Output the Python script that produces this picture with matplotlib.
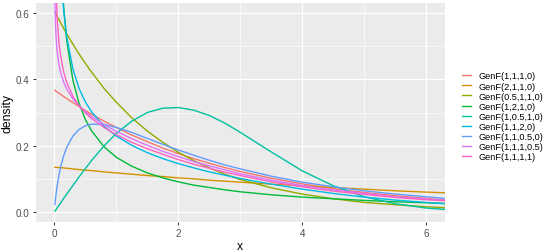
import matplotlib
matplotlib.use("Agg")
import matplotlib.pyplot as plt
from matplotlib.ticker import MultipleLocator

plt.rcParams["font.family"] = ["Liberation Sans", "DejaVu Sans"]

# density values, on a shared x grid
x_vals = [0.01, 0.02, 0.03, 0.05, 0.075, 0.1, 0.15, 0.2, 0.3, 0.4, 0.5, 0.6, 0.8,
          1.0, 1.25, 1.5, 1.75, 2.0, 2.25, 2.5, 2.75, 3.0, 3.5, 4.0, 4.5, 5.0,
          5.5, 6.0, 6.3]

genf_1110 = [0.367, 0.365, 0.364, 0.361, 0.358, 0.355, 0.348, 0.342, 0.330, 0.318,
             0.306, 0.295, 0.274, 0.255, 0.232, 0.212, 0.193, 0.176, 0.161, 0.147,
             0.134, 0.122, 0.102, 0.085, 0.070, 0.059, 0.049, 0.041, 0.036]
genf_2110 = [0.135, 0.135, 0.135, 0.134, 0.134, 0.134, 0.133, 0.132, 0.130, 0.128,
             0.126, 0.125, 0.121, 0.118, 0.114, 0.110, 0.107, 0.103, 0.100, 0.096,
             0.093, 0.090, 0.084, 0.079, 0.074, 0.069, 0.064, 0.060, 0.058]
genf_05110 = [0.603, 0.599, 0.596, 0.588, 0.580, 0.571, 0.554, 0.537, 0.506, 0.476,
              0.448, 0.422, 0.373, 0.331, 0.284, 0.244, 0.210, 0.180, 0.155, 0.133,
              0.114, 0.098, 0.073, 0.054, 0.040, 0.029, 0.022, 0.016, 0.013]
genf_1210 = [2.850, 1.969, 1.576, 1.184, 0.938, 0.792, 0.619, 0.517, 0.397, 0.327,
             0.279, 0.245, 0.197, 0.165, 0.138, 0.118, 0.103, 0.091, 0.081, 0.074,
             0.067, 0.061, 0.052, 0.045, 0.040, 0.035, 0.031, 0.028, 0.026]
genf_1_05_10 = [0.003, 0.005, 0.008, 0.014, 0.020, 0.027, 0.041, 0.054, 0.080, 0.106,
                0.131, 0.155, 0.199, 0.237, 0.274, 0.300, 0.313, 0.315, 0.307, 0.291,
                0.268, 0.240, 0.181, 0.124, 0.079, 0.046, 0.025, 0.012, 0.008]
genf_1120 = [2.366, 1.673, 1.366, 1.058, 0.864, 0.748, 0.610, 0.528, 0.431, 0.372,
             0.332, 0.302, 0.259, 0.229, 0.201, 0.179, 0.161, 0.146, 0.133, 0.121,
             0.111, 0.101, 0.084, 0.069, 0.056, 0.045, 0.036, 0.029, 0.025]
genf_11_05_0 = [0.023, 0.041, 0.057, 0.084, 0.111, 0.134, 0.169, 0.195, 0.229, 0.249,
                0.260, 0.265, 0.264, 0.255, 0.240, 0.222, 0.204, 0.187, 0.171, 0.156,
                0.142, 0.130, 0.108, 0.090, 0.076, 0.064, 0.054, 0.046, 0.041]
genf_111_05 = [0.631, 0.560, 0.522, 0.477, 0.445, 0.422, 0.392, 0.371, 0.341, 0.320,
               0.303, 0.288, 0.264, 0.243, 0.221, 0.201, 0.183, 0.167, 0.152, 0.139,
               0.127, 0.115, 0.096, 0.080, 0.067, 0.056, 0.046, 0.039, 0.035]
genf_1111 = [0.878, 0.729, 0.654, 0.570, 0.511, 0.473, 0.423, 0.391, 0.349, 0.320,
             0.299, 0.282, 0.255, 0.233, 0.210, 0.191, 0.174, 0.158, 0.144, 0.132,
             0.120, 0.110, 0.091, 0.076, 0.063, 0.053, 0.044, 0.037, 0.034]

labels = ["GenF(1,1,1,0)", "GenF(2,1,1,0)", "GenF(0.5,1,1,0)", "GenF(1,2,1,0)",
          "GenF(1,0.5,1,0)", "GenF(1,1,2,0)", "GenF(1,1,0.5,0)", "GenF(1,1,1,0.5)",
          "GenF(1,1,1,1)"]
series = [genf_1110, genf_2110, genf_05110, genf_1210, genf_1_05_10, genf_1120,
          genf_11_05_0, genf_111_05, genf_1111]
colors = ["#F8766D", "#D39200", "#93AA00", "#00BA38", "#00C19F", "#00B9E3",
          "#619CFF", "#DB72FB", "#FF61C3"]

fig = plt.figure(figsize=(5.5, 2.53), dpi=100)
ax = fig.add_axes([35.7 / 550, 1 - 223 / 253, (445 - 35.7) / 550, (223 - 4) / 253])
ax.set_facecolor("#EBEBEB")

for ys, lab, c in zip(series, labels, colors):
    ax.plot(x_vals, ys, color=c, lw=1.0, label=lab)

ax.set_xlim(-0.3, 6.3)
ax.set_ylim(-0.03, 0.63)
ax.xaxis.set_minor_locator(MultipleLocator(1))
ax.yaxis.set_minor_locator(MultipleLocator(0.1))
ax.set_xticks([0, 2, 4, 6])
ax.set_xticklabels(["0", "2", "4", "6"])
ax.set_yticks([0, 0.2, 0.4, 0.6])
ax.set_yticklabels(["0.0", "0.2", "0.4", "0.6"])

ax.grid(which="major", color="white", lw=0.9)
ax.grid(which="minor", color="white", lw=0.45)
ax.set_axisbelow(True)
for s in ax.spines.values():
    s.set_visible(False)
ax.tick_params(which="major", length=2.5, width=0.7, color="#333333",
               labelsize=7.1, labelcolor="#4D4D4D", pad=2.0)
ax.tick_params(which="minor", length=0)

ax.set_xlabel("x", fontsize=8.8, labelpad=1.5)
ax.set_ylabel("density", fontsize=8.8, labelpad=1.5)

ax.legend(loc="center left", bbox_to_anchor=(462 / 550, 1 - 117.4 / 253),
          bbox_transform=fig.transFigure, frameon=False, fontsize=6.6,
          handlelength=1.0, handletextpad=0.8, labelspacing=0.12,
          borderpad=0, borderaxespad=0)

fig.savefig("out.png", dpi=100)
